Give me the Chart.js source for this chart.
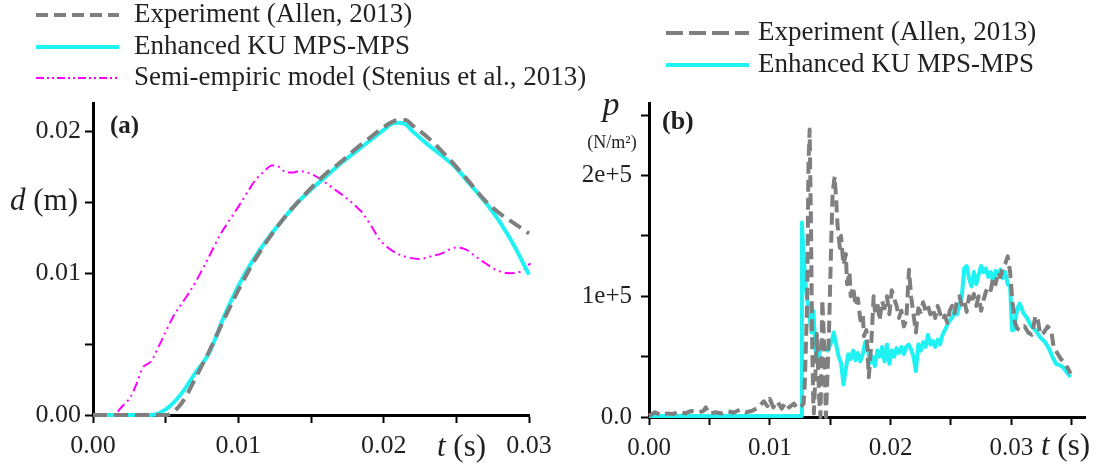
<!DOCTYPE html>
<html>
<head>
<meta charset="utf-8">
<script src="https://cdn.jsdelivr.net/npm/chart.js@4.4.1/dist/chart.umd.min.js"></script>
<style>
  body { margin: 0; background: #fff; }
  #wrap { position: relative; width: 1105px; height: 465px; overflow: hidden; }
  canvas { position: absolute; top: 0; }
</style>
</head>
<body>
<div id="wrap">
  <canvas id="chartA" width="600" height="465" style="left:0"></canvas>
  <canvas id="chartB" width="560" height="465" style="left:545px"></canvas>
</div>
<script>
// series names
const nameExp = 'Experiment (Allen, 2013)';
const nameKU = 'Enhanced KU MPS-MPS';
const nameSemi = 'Semi-empiric model (Stenius et al., 2013)';

// panel (a): deflection d (m) against t (s)
const expAT = [0, 0.003, 0.005, 0.0055, 0.006, 0.0065, 0.007, 0.0075, 0.008, 0.009,
  0.010, 0.011, 0.012, 0.013, 0.014, 0.015, 0.016, 0.017, 0.018, 0.019,
  0.020, 0.021, 0.0215, 0.022, 0.023, 0.024, 0.025, 0.026, 0.027, 0.028,
  0.029, 0.030];
const expAD = [0, 0, 0, 0.0002, 0.0007, 0.0015, 0.0025, 0.0035, 0.0045, 0.0067,
  0.0088, 0.0107, 0.0123, 0.0137, 0.0149, 0.0160, 0.0170, 0.0178, 0.0187, 0.0195,
  0.0203, 0.0208, 0.0208, 0.0204, 0.0196, 0.0186, 0.0175, 0.0163, 0.0151, 0.0142,
  0.0135, 0.0128];

const kuAT = [0, 0.002, 0.004, 0.005, 0.006, 0.007, 0.008, 0.009, 0.010, 0.011,
  0.012, 0.013, 0.014, 0.015, 0.016, 0.017, 0.018, 0.019, 0.020, 0.0205,
  0.021, 0.0215, 0.022, 0.023, 0.024, 0.025, 0.026, 0.027, 0.028, 0.029,
  0.030];
const kuAD = [0, 0, 0, 0.0004, 0.0014, 0.0029, 0.0044, 0.0069, 0.0091, 0.0109,
  0.0124, 0.0137, 0.0149, 0.0159, 0.0168, 0.0177, 0.0185, 0.0193, 0.0201, 0.0205,
  0.0206, 0.0205, 0.0200, 0.0191, 0.0183, 0.0174, 0.0162, 0.0150, 0.0136, 0.0119,
  0.0099];

const semiAT = [0, 0.0014, 0.0020, 0.0026, 0.0030, 0.0034, 0.0040, 0.0046, 0.0055, 0.0062,
  0.0069, 0.0078, 0.0088, 0.0095, 0.0102, 0.0108, 0.0112, 0.0118, 0.0123, 0.0128,
  0.0133, 0.0138, 0.0142, 0.0150, 0.0157, 0.0165, 0.0173, 0.0180, 0.0185, 0.0191,
  0.0197, 0.0203, 0.0209, 0.0217, 0.0225, 0.0233, 0.0240, 0.0249, 0.0256, 0.0263,
  0.0270, 0.0278, 0.0287, 0.0294, 0.0301];
const semiAD = [0, 0, 0.0006, 0.0013, 0.0022, 0.0033, 0.0038, 0.0050, 0.0069, 0.0080,
  0.0091, 0.0108, 0.0128, 0.0139, 0.0150, 0.0160, 0.0166, 0.0172, 0.0176, 0.0175,
  0.0171, 0.0171, 0.0172, 0.0170, 0.0166, 0.0160, 0.0154, 0.0148, 0.0143, 0.0134,
  0.0124, 0.0118, 0.0114, 0.0111, 0.0110, 0.0112, 0.0114, 0.0118, 0.0117, 0.0112,
  0.0107, 0.0102, 0.0100, 0.0101, 0.0107];

// panel (b): pressure p (N/m2) against t (s)
const expBT = [0, 0.0005, 0.001, 0.0015, 0.002, 0.0025, 0.003, 0.0035, 0.004, 0.0045,
  0.0047, 0.005, 0.0055, 0.006, 0.0065, 0.007, 0.0075, 0.008, 0.0085, 0.009,
  0.0095, 0.0098, 0.01, 0.0103, 0.0106, 0.011, 0.0113, 0.0116, 0.012, 0.0123,
  0.0126, 0.0128, 0.0129, 0.0131, 0.0132, 0.0133, 0.01342, 0.0135, 0.0136, 0.01365,
  0.0138, 0.0139, 0.0141, 0.0142, 0.01435, 0.0145, 0.01465, 0.0148, 0.0149, 0.0151,
  0.0152, 0.01537, 0.0155, 0.0156, 0.0158, 0.0159, 0.0161, 0.0163, 0.0164, 0.0166,
  0.0167, 0.0169, 0.0171, 0.0173, 0.0175, 0.0177, 0.0178, 0.018, 0.0182, 0.0184,
  0.0186, 0.0187, 0.0189, 0.0191, 0.0193, 0.0195, 0.0197, 0.0199, 0.0201, 0.0203,
  0.0205, 0.0207, 0.0209, 0.0211, 0.0213, 0.02153, 0.0217, 0.0219, 0.0221, 0.0223,
  0.0225, 0.0227, 0.0229, 0.0231, 0.0233, 0.0235, 0.0237, 0.0239, 0.0241, 0.0243,
  0.0245, 0.0247, 0.0249, 0.0251, 0.0253, 0.0255, 0.0257, 0.0259, 0.0261, 0.0263,
  0.0265, 0.0267, 0.0269, 0.0271, 0.0273, 0.0275, 0.0277, 0.0279, 0.0281, 0.0283,
  0.0285, 0.0287, 0.0289, 0.0291, 0.0293, 0.0295, 0.0297, 0.0299, 0.0301, 0.0303,
  0.0305, 0.0308, 0.0311, 0.0314, 0.0317, 0.0320, 0.0322, 0.0324, 0.0327, 0.0330,
  0.0333, 0.0335, 0.0338, 0.0341, 0.0344, 0.0347, 0.0349];
const expBP = [1000, 4000, 1500, 3000, 2500, 4500, 3000, 5000, 3500, 5000,
  8000, 2500, 4000, 3000, 5000, 3500, 6000, 4000, 5000, 7500,
  13000, 9000, 15000, 8000, 13000, 7000, 12000, 8000, 11000, 7000,
  9000, 11000, 28000, 97000, 207000, 238000, 152000, 69000, 14000, 3000,
  41000, 69000, 14000, 0, 97000, 60000, 0, 41000, 69000, 150000,
  185000, 199000, 180000, 160000, 140000, 150000, 126000, 135000, 110000, 120000,
  100000, 108000, 92000, 98000, 80000, 85000, 67000, 72000, 33000, 60000,
  100000, 88000, 95000, 80000, 96000, 90000, 100000, 85000, 105000, 98000,
  92000, 82000, 88000, 75000, 80000, 122000, 100000, 85000, 70000, 90000,
  87000, 95000, 88000, 92000, 85000, 90000, 82000, 92000, 86000, 80000,
  84000, 78000, 88000, 92000, 86000, 96000, 100000, 93000, 97000, 87000,
  100000, 94000, 102000, 92000, 100000, 88000, 97000, 104000, 108000, 105000,
  116000, 110000, 120000, 116000, 124000, 127000, 133000, 120000, 95000, 78000,
  73000, 72000, 75000, 70000, 68000, 84000, 80000, 68000, 70000, 75000,
  72000, 58000, 53000, 48000, 45000, 40000, 36000];

const kuBT = [0, 0.0126, 0.01266, 0.0128, 0.0130, 0.0132, 0.01345, 0.0136, 0.0138, 0.0140,
  0.0142, 0.0145, 0.0148, 0.0151, 0.0153, 0.0155, 0.0157, 0.0159, 0.0161, 0.0163,
  0.0165, 0.0167, 0.0169, 0.0171, 0.0173, 0.0175, 0.0177, 0.0179, 0.0181, 0.0183,
  0.0185, 0.0187, 0.0189, 0.0191, 0.0193, 0.0195, 0.0197, 0.0199, 0.0201, 0.0203,
  0.0205, 0.0207, 0.0209, 0.0211, 0.0213, 0.0215, 0.0217, 0.0219, 0.0221, 0.0223,
  0.0225, 0.0227, 0.0229, 0.0231, 0.0233, 0.0235, 0.0237, 0.0239, 0.0241, 0.0243,
  0.0245, 0.0247, 0.0249, 0.0251, 0.0253, 0.0255, 0.0257, 0.0259, 0.0261, 0.0263,
  0.0265, 0.0267, 0.0269, 0.0271, 0.0273, 0.0275, 0.0277, 0.0279, 0.0281, 0.0283,
  0.0285, 0.0287, 0.0289, 0.0291, 0.0293, 0.0295, 0.0297, 0.0299, 0.03006, 0.0302,
  0.0305, 0.0307, 0.0310, 0.0313, 0.0316, 0.0320, 0.0324, 0.0328, 0.0331, 0.0334,
  0.0337, 0.0340, 0.0343, 0.0346, 0.0349];
const kuBP = [800, 800, 161000, 135000, 105000, 90000, 70000, 88000, 55000, 42000,
  60000, 58000, 55000, 62000, 70000, 60000, 50000, 45000, 27000, 40000,
  52000, 48000, 55000, 47000, 53000, 46000, 52000, 62000, 58000, 45000,
  50000, 42000, 55000, 50000, 58000, 46000, 60000, 44000, 55000, 50000,
  57000, 53000, 58000, 52000, 58000, 60000, 56000, 50000, 38000, 60000,
  55000, 62000, 58000, 68000, 60000, 63000, 58000, 64000, 60000, 68000,
  72000, 76000, 80000, 82000, 88000, 85000, 92000, 100000, 123000, 125000,
  115000, 108000, 120000, 110000, 118000, 125000, 120000, 123000, 116000, 120000,
  112000, 121000, 118000, 122000, 115000, 120000, 110000, 108000, 72000, 72000,
  90000, 94000, 86000, 82000, 76000, 72000, 66000, 62000, 57000, 50000,
  44000, 43000, 41000, 37000, 33000];

// tick positions (major + minor) and the labels on the major ones
const aXTicks = [0, 0.005, 0.01, 0.015, 0.02, 0.025, 0.03];
const aXVals = [0, 0.01, 0.02, 0.03], aXLabels = ['0.00', '0.01', '0.02', '0.03'];
const aYTicks = [0, 0.005, 0.01, 0.015, 0.02];
const aYVals = [0, 0.01, 0.02], aYLabels = ['0.00', '0.01', '0.02'];
const bXTicks = [0, 0.005, 0.01, 0.015, 0.02, 0.025, 0.03, 0.035];
const bXVals = [0, 0.01, 0.02, 0.03], bXLabels = ['0.00', '0.01', '0.02', '0.03'];
const bYTicks = [0, 50000, 100000, 150000, 200000, 250000];
const bYVals = [0, 100000, 200000], bYLabels = ['0.0', '1e+5', '2e+5'];

const SERIF = "'Liberation Serif', 'Times New Roman', serif";
const ink = '#231f20';
const grey = '#7f7f7f', cyan = '#1ff2f2', magenta = '#ff00ff';

const pts = (xs, ys) => xs.map((x, i) => ({ x: x, y: ys[i] }));
const labelFor = (vals, labels, v) => {
  const i = vals.findIndex(t => Math.abs(t - v) < 1e-9 * Math.max(1, Math.abs(t)));
  return i < 0 ? '' : labels[i];
};

function axis(o) {
  return {
    type: 'linear', min: o.min, max: o.max,
    border: { display: true, color: '#000', width: 3 },
    grid: { display: true, drawOnChartArea: false, drawTicks: true, tickLength: 8, tickWidth: 2, tickColor: '#000' },
    ticks: {
      autoSkip: false, maxRotation: 0,
      padding: o.pad, color: ink, font: { family: SERIF, size: o.size },
      callback: v => labelFor(o.vals, o.labels, v)
    },
    afterBuildTicks: s => { s.ticks = o.ticks.map(v => ({ value: v })); },
    afterFit: s => { if (o.w) s.width = o.w; if (o.h) s.height = o.h; }
  };
}

function drawRuns(ctx, runs, x, y, align) {
  ctx.textBaseline = 'middle';
  let w = 0;
  runs.forEach(r => { ctx.font = r[1]; w += ctx.measureText(r[0]).width; });
  let cx = align === 'center' ? x - w / 2 : x;
  runs.forEach(r => {
    ctx.font = r[1];
    ctx.fillText(r[0], cx, y);
    cx += ctx.measureText(r[0]).width;
  });
}

// legend + axis titles + panel letters, drawn on the canvas
const overlay = {
  id: 'overlay',
  afterDraw(chart, args, o) {
    const ctx = chart.ctx;
    ctx.save();
    ctx.fillStyle = ink;
    const lg = o.legend;
    chart.data.datasets.forEach((ds, i) => {
      const y = lg.y[i];
      ctx.save();
      ctx.beginPath();
      ctx.strokeStyle = ds.borderColor;
      ctx.lineWidth = lg.width[i];
      ctx.setLineDash(lg.dash[i]);
      ctx.moveTo(lg.x0, y);
      ctx.lineTo(lg.x1, y);
      ctx.stroke();
      ctx.restore();
      drawRuns(ctx, [[ds.label, lg.font]], lg.tx, y);
    });
    o.texts.forEach(t => drawRuns(ctx, t.runs, t.x, t.y, t.align));
    ctx.restore();
  }
};

function lineSet(label, data, color, width, dash, tension) {
  return {
    label: label, data: data, borderColor: color, backgroundColor: color,
    borderWidth: width, borderDash: dash, pointRadius: 0, fill: false,
    tension: tension, cubicInterpolationMode: tension ? 'monotone' : 'default',
    borderJoinStyle: 'round', clip: 6
  };
}

new Chart(document.getElementById('chartA'), {
  type: 'line',
  data: {
    datasets: [
      lineSet(nameExp, pts(expAT, expAD), grey, 4, [14, 7], 0.4),
      lineSet(nameKU, pts(kuAT, kuAD), cyan, 4, [], 0.4),
      lineSet(nameSemi, pts(semiAT, semiAD), magenta, 2, [10, 4, 2, 4, 2, 4], 0.4)
    ]
  },
  options: {
    responsive: false, animation: false,
    layout: { padding: { top: 103, right: 71, bottom: 0, left: 0 } },
    scales: {
      x: axis({ min: 0, max: 0.03, ticks: aXTicks, vals: aXVals, labels: aXLabels, size: 26, pad: 8, h: 50 }),
      y: axis({ min: 0, max: 0.022, ticks: aYTicks, vals: aYVals, labels: aYLabels, size: 26, pad: 4, w: 93 })
    },
    plugins: {
      legend: { display: false },
      tooltip: { enabled: false },
      overlay: {
        legend: { x0: 36, x1: 119, tx: 134, y: [15, 47, 78], font: '27px ' + SERIF,
          width: [4, 4, 2], dash: [[12, 6], [], [8, 3, 2, 3, 2, 3]] },
        texts: [
          { runs: [['(a)', 'bold 25px ' + SERIF]], x: 110, y: 127 },
          { runs: [['d', 'italic 31px ' + SERIF], [' (m)', '31px ' + SERIF]], x: 10, y: 202 },
          { runs: [['t', 'italic 31px ' + SERIF], [' (s)', '31px ' + SERIF]], x: 437, y: 448 }
        ]
      }
    }
  },
  plugins: [overlay]
});

new Chart(document.getElementById('chartB'), {
  type: 'line',
  data: {
    datasets: [
      lineSet(nameExp, pts(expBT, expBP), grey, 4, [12, 6], 0),
      lineSet(nameKU, pts(kuBT, kuBP), cyan, 4, [], 0)
    ]
  },
  options: {
    responsive: false, animation: false,
    layout: { padding: { top: 103, right: 20, bottom: 0, left: 0 } },
    scales: {
      x: axis({ min: 0, max: 0.0361, ticks: bXTicks, vals: bXVals, labels: bXLabels, size: 25, pad: 8, h: 48 }),
      y: axis({ min: 0, max: 260000, ticks: bYTicks, vals: bYVals, labels: bYLabels, size: 25, pad: 9, w: 104 })
    },
    plugins: {
      legend: { display: false },
      tooltip: { enabled: false },
      overlay: {
        legend: { x0: 121, x1: 204, tx: 213, y: [33, 65], font: '27px ' + SERIF,
          width: [4, 4], dash: [[17, 6], []] },
        texts: [
          { runs: [['(b)', 'bold 26px ' + SERIF]], x: 117, y: 122 },
          { runs: [['p', 'italic 34px ' + SERIF]], x: 66, y: 106, align: 'center' },
          { runs: [['(N/m²)', '18px ' + SERIF]], x: 67, y: 143, align: 'center' },
          { runs: [['t', 'italic 31px ' + SERIF], [' (s)', '31px ' + SERIF]], x: 496, y: 447 }
        ]
      }
    }
  },
  plugins: [overlay]
});
</script>
</body>
</html>
